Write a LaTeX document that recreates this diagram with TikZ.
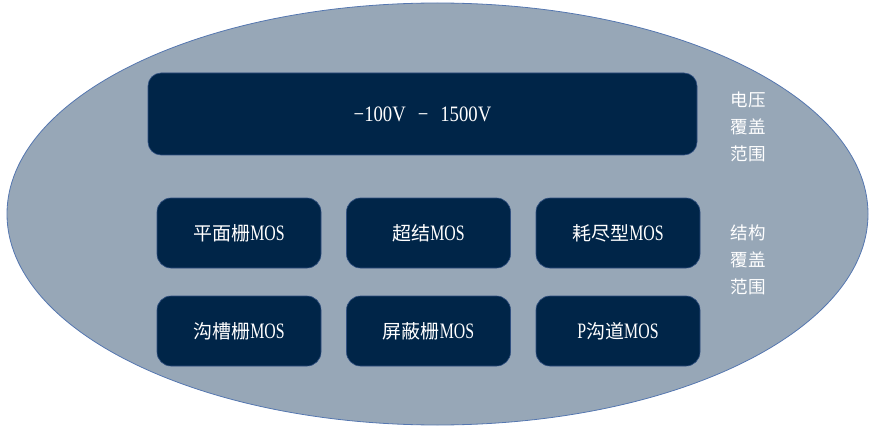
\documentclass[tikz,border=0pt]{standalone}
\usepackage{fontspec}
\setmainfont{Liberation Serif}[FakeStretch=0.72]
\newfontfamily\rangefont{Liberation Serif}[FakeStretch=0.85]
\newfontfamily\cjk{Noto Sans CJK SC}
\newcommand{\zh}[1]{{\cjk\fontsize{19}{22}\selectfont #1}}
\definecolor{ellfill}{HTML}{97A7B7}
\definecolor{elldraw}{HTML}{5577B0}
\definecolor{boxfill}{HTML}{002548}
\definecolor{boxdraw}{HTML}{2F4F80}
\tikzset{
  bigbox/.style={draw=boxdraw, line width=0.6pt, fill=boxfill, rounded corners=13pt,
    minimum width=549pt, minimum height=82pt, inner sep=0pt, text=white,
    font=\rangefont\fontsize{22}{24}\selectfont},
  mosbox/.style={draw=boxdraw, line width=0.6pt, fill=boxfill, rounded corners=14pt,
    minimum width=164pt, minimum height=70pt, inner sep=0pt, text=white,
    font=\fontsize{22}{24}\selectfont},
  side/.style={text=white, align=center, inner sep=0pt,
    font=\cjk\fontsize{17.5}{27}\selectfont}
}
\begin{document}
\begin{tikzpicture}[x=1pt,y=1pt]
\useasboundingbox (0,0) rectangle (872,429);
\draw[draw=elldraw, line width=0.8pt, fill=ellfill] (437.5,215) ellipse [x radius=430.5, y radius=211];
\node[bigbox] (range) at (422.5,315) {−100V\hspace{12pt}−\hspace{12pt}1500V};
\node[mosbox] (m1) at (239,196) {\zh{平面栅}MOS};
\node[mosbox] (m2) at (428.5,196) {\zh{超结}MOS};
\node[mosbox] (m3) at (618,196) {\zh{耗尽型}MOS};
\node[mosbox] (m4) at (239,98) {\zh{沟槽栅}MOS};
\node[mosbox] (m5) at (428.5,98) {\zh{屏蔽栅}MOS};
\node[mosbox] (m6) at (618,98) {P\zh{沟道}MOS};
\node[side] (v) at (748,302) {电压\\覆盖\\范围};
\node[side] (s) at (748,169) {结构\\覆盖\\范围};
\end{tikzpicture}
\end{document}
